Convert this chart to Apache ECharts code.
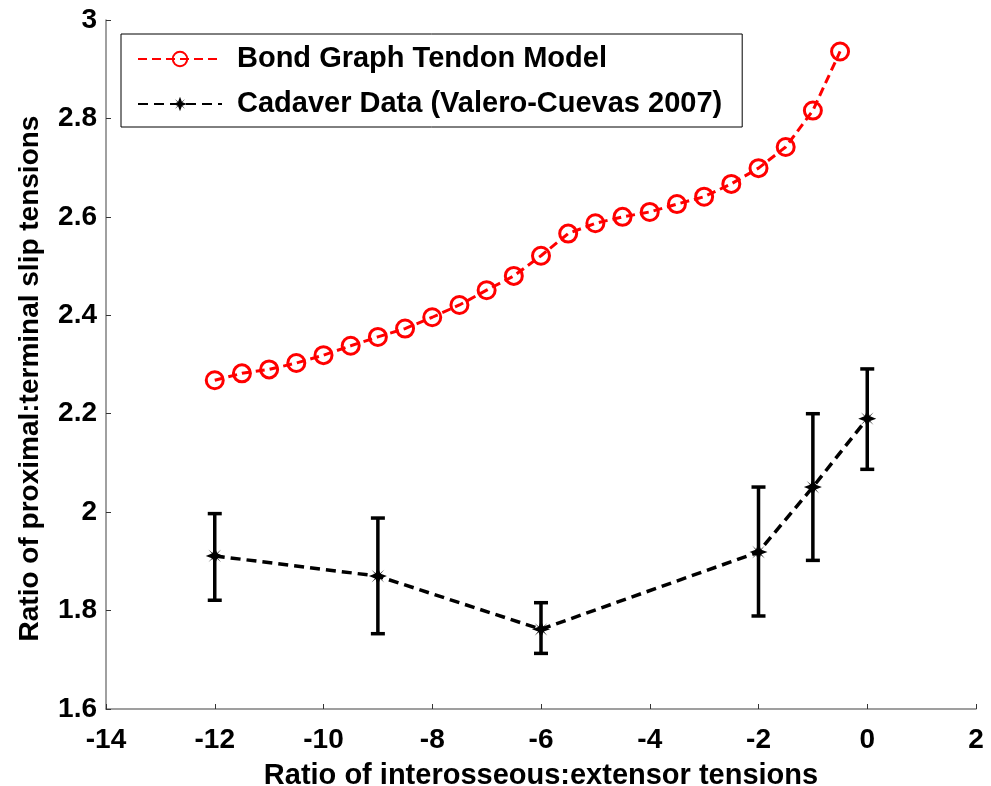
<!DOCTYPE html>
<html>
<head>
<meta charset="utf-8">
<script src="https://cdn.jsdelivr.net/npm/echarts@6/dist/echarts.min.js"></script>
<style>
  html, body { margin: 0; padding: 0; background: #fff; }
  #chart { width: 991px; height: 786px; }
</style>
</head>
<body>
<div id="chart"></div>
<script>
// Bond graph tendon model: ratio sweep in steps of 0.5
const modelX = [-12, -11.5, -11, -10.5, -10, -9.5, -9, -8.5, -8, -7.5, -7, -6.5,
                -6, -5.5, -5, -4.5, -4, -3.5, -3, -2.5, -2, -1.5, -1, -0.5];
const modelY = [2.268, 2.282, 2.290, 2.303, 2.319, 2.338, 2.356, 2.373, 2.396, 2.421, 2.451, 2.480,
                2.521, 2.566, 2.587, 2.600, 2.610, 2.626, 2.641, 2.667, 2.699, 2.742, 2.816, 2.936];

// Cadaver measurements (mean with lower / upper error bounds)
const cadaverX = [-12, -9, -6, -2, -1, 0];
const cadaverY = [1.911, 1.870, 1.762, 1.919, 2.051, 2.190];
const cadaverLow = [1.821, 1.753, 1.713, 1.789, 1.902, 2.087];
const cadaverHigh = [1.997, 1.988, 1.816, 2.051, 2.200, 2.291];

const seriesNames = ['Bond Graph Tendon Model', 'Cadaver Data (Valero-Cuevas 2007)'];
const xTitle = 'Ratio of interosseous:extensor tensions';
const yTitle = 'Ratio of proximal:terminal slip tensions';

const FONT = '"Liberation Sans", Arial, sans-serif';
// asterisk-like marker for the measured points
const starPath = 'path://M0,-10 L2.6,-3.2 L7.1,-7.1 L3.2,-2.6 L10,0 L3.2,2.6 L7.1,7.1 L2.6,3.2 L0,10 L-2.6,3.2 L-7.1,7.1 L-3.2,2.6 L-10,0 L-3.2,-2.6 L-7.1,-7.1 L-2.6,-3.2 Z';

const chart = echarts.init(document.getElementById('chart'), null, { renderer: 'canvas' });

const axisLabelStyle = { color: '#000', fontFamily: FONT, fontWeight: 'bold', fontSize: 28 };
const fmt = v => String(parseFloat(Number(v).toFixed(1)));

chart.setOption({
  backgroundColor: '#fff',
  animation: false,
  grid: { left: 106, right: 15, top: 20, bottom: 77, containLabel: false, outerBoundsMode: 'none' },
  legend: {
    data: seriesNames,
    orient: 'vertical',
    left: 121,
    top: 34,
    padding: [10, 20, 8, 16],
    itemGap: 15,
    itemWidth: 84,
    itemHeight: 18,
    borderColor: '#000',
    borderWidth: 1,
    backgroundColor: '#fff',
    textStyle: { color: '#000', fontFamily: FONT, fontWeight: 'bold', fontSize: 29, lineHeight: 30, padding: [0, 0, 0, 10] }
  },
  xAxis: {
    type: 'value',
    min: -14, max: 2, interval: 2,
    name: xTitle,
    nameLocation: 'middle',
    nameGap: 52,
    nameTextStyle: { color: '#000', fontFamily: FONT, fontWeight: 'bold', fontSize: 29 },
    axisLine: { onZero: false, lineStyle: { color: '#808080', width: 1.5 } },
    axisTick: { inside: true, length: 5, lineStyle: { color: '#333', width: 1 } },
    axisLabel: Object.assign({ margin: 17, formatter: fmt }, axisLabelStyle),
    splitLine: { show: false }
  },
  yAxis: {
    type: 'value',
    min: 1.6, max: 3, interval: 0.2,
    name: yTitle,
    nameLocation: 'middle',
    nameGap: 62,
    nameTextStyle: { color: '#000', fontFamily: FONT, fontWeight: 'bold', fontSize: 28, padding: [0, 28, 0, 0] },
    axisLine: { show: true, onZero: false, lineStyle: { color: '#808080', width: 1.5 } },
    axisTick: { show: true, inside: true, length: 5, lineStyle: { color: '#333', width: 1 } },
    axisLabel: Object.assign({ margin: 9, formatter: fmt }, axisLabelStyle),
    splitLine: { show: false }
  },
  series: [
    {
      name: seriesNames[0],
      type: 'line',
      data: modelX.map((x, i) => [x, modelY[i]]),
      symbol: 'circle',
      symbolSize: 17,
      itemStyle: { color: 'rgba(255,255,255,0)', borderColor: '#ff0000', borderWidth: 3 },
      lineStyle: { color: '#ff0000', width: 3, type: [9, 5] },
      z: 3
    },
    {
      name: seriesNames[1],
      type: 'line',
      data: cadaverX.map((x, i) => [x, cadaverY[i]]),
      symbol: starPath,
      symbolSize: 18,
      itemStyle: { color: '#000' },
      lineStyle: { color: '#000', width: 3.5, type: [10, 6] },
      z: 4
    },
    {
      name: 'errorbars',
      type: 'custom',
      data: cadaverX.map((x, i) => [x, cadaverLow[i], cadaverHigh[i]]),
      renderItem: function (params, api) {
        const lo = api.coord([api.value(0), api.value(1)]);
        const hi = api.coord([api.value(0), api.value(2)]);
        const half = 7;
        const style = { stroke: '#000', lineWidth: 3.5, fill: null };
        return {
          type: 'group',
          children: [
            { type: 'line', shape: { x1: lo[0], y1: lo[1], x2: hi[0], y2: hi[1] }, style: style },
            { type: 'line', shape: { x1: lo[0] - half, y1: lo[1], x2: lo[0] + half, y2: lo[1] }, style: style },
            { type: 'line', shape: { x1: hi[0] - half, y1: hi[1], x2: hi[0] + half, y2: hi[1] }, style: style }
          ]
        };
      },
      z: 2
    }
  ]
});
</script>
</body>
</html>
